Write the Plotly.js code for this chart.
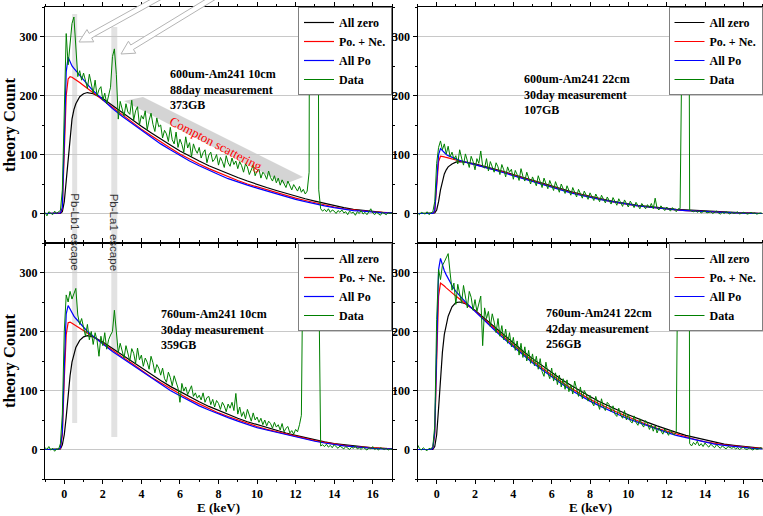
<!DOCTYPE html>
<html>
<head>
<meta charset="utf-8">
<script src="https://cdn.plot.ly/plotly-3.0.1.min.js"></script>
<style>html,body{margin:0;padding:0;background:#fff;}#chart{width:763px;height:516px;}</style>
</head>
<body>
<div id="chart"></div>
<script>
// ---------------- DATA ----------------
// Model energy grid (keV)
const modelE = [-1,-0.5,-0.3,-0.2,-0.1,0,0.1,0.2,0.3,0.4,0.5,0.6,0.8,1,1.2,1.5,2,2.5,3,3.5,4,4.5,5,5.5,6,6.5,7,7.5,8,8.5,9,9.5,10,10.5,11,11.5,12,12.5,13,13.5,14,14.5,15,15.5,16,16.5,17];
// Measured data energy bins: -1 .. 17 keV, 0.1 keV wide
const dataStart = -1, dataStep = 0.1, dataCount = 181;

// Panel 1: 600um-Am241 10cm
const tlAllZero = [0,0,0,0,3,20,55,95,135,160,176,186,198,203,205,203,195,183,171,160,148,137,126,116,106,97,89,81,74,67,61,55,49,44,39,34,29,25,21,17,13,10,7,5,3,2,1];
const tlPoNe    = [0,0,0,1,8,100,200,228,232,231,229,227,222,217,212,205,192,179,167,155,143,132,121,111,101,92,84,76,69,62,56,50,45,40,35,30,26,22,18,14,11,8,6,4,3,2,1];
const tlAllPo   = [0,0,0,1,10,120,240,265,256,250,246,242,234,226,219,208,193,178,165,153,141,129,118,108,98,89,81,73,66,59,53,48,43,38,33,28,24,20,16,13,10,7,5,4,2,1,1];
const tlData = [2,-4,3,1,-2,4,0,3,5,40,200,305,252,292,322,333,282,232,242,226,
238,222,212,236,218,204,226,199,210,215,192,204,186,198,214,266,279,236,160,190,
178,165,186,172,168,192,158,174,181,150,166,160,174,142,158,170,151,139,162,147,
150,128,141,135,122,146,125,118,138,112,126,117,104,130,111,120,96,118,108,102,
112,94,103,108,86,99,104,88,92,100,82,95,88,78,98,86,80,94,83,89,
76,88,81,70,84,79,66,76,82,64,72,75,60,70,66,58,72,61,55,64,
52,60,48,57,50,44,55,47,40,49,43,38,46,36,41,33,38,70,1800,3200,
3000,1400,40,8,
4,7,3,8,2,6,4,0,5,2,6,1,3,-2,4,1,2,-3,3,0,5,-1,2,-2,3,8,1,-2,2,0,-3,2,0,-2,1,0,1];

// Panel 2: 600um-Am241 22cm
const trAllZero = [0,0,0,0,1,6,20,40,56,67,74,79,84,87,88,87,84,80,76,71,66,61,56,51,46,42,37,33,29,25,22,19,16,14,12,10,8,7,6,5,4,3,2,1.5,1,0.5,0];
const trPoNe    = [0,0,0,0,4,45,88,97,97,96,95,94,92,90,89,87,83,79,75,70,65,60,55,50,45,41,36,32,28,24,21,18,15,13,11,9,8,6,5,4,3,2.5,2,1,1,0.5,0];
const trAllPo   = [0,0,0,0,5,50,100,110,106,103,100,98,95,92,90,87,83,79,74,69,64,59,54,49,44,40,35,31,27,24,21,18,15,13,11,9,7,6,5,4,3,2,1.5,1,0.5,0,0];
const trData = [1,-2,2,0,-1,3,-2,1,3,20,85,112,123,108,118,101,114,96,104,92,
98,84,108,94,82,101,90,78,97,88,74,93,85,106,80,77,93,72,88,80,
70,86,79,66,83,74,62,79,70,75,58,73,66,56,76,63,55,70,61,50,
62,55,47,64,53,44,60,50,42,56,47,39,54,45,36,50,42,34,47,39,
31,44,37,28,41,34,26,38,31,24,35,28,22,33,26,20,31,24,18,28,
21,16,27,20,14,25,18,12,23,17,11,21,15,10,19,14,8,17,13,8,
15,10,17,8,26,9,6,13,9,5,11,8,4,10,6,3,8,8,300,2500,
2400,1100,6,4,
3,5,2,4,1,3,4,1,2,3,0,2,4,1,-1,2,0,3,1,-1,2,0,1,3,-1,0,2,1,-1,0,2,0,1,-1,0,1,0];

// Panel 3: 760um-Am241 10cm
const blAllZero = [0,0,0,1,8,25,55,95,125,148,163,173,185,191,193,191,182,171,160,149,138,127,117,107,98,89,81,73,66,59,53,47,42,37,32,28,24,20,16,13,10,8,6,4,3,2,1];
const blPoNe    = [0,0,0,2,25,120,195,215,216,214,212,210,205,201,197,191,180,168,157,146,134,123,113,103,94,85,77,69,62,56,50,44,39,34,30,26,22,18,15,12,9,7,5,4,2,1,1];
const blAllPo   = [0,0,0,3,30,140,230,244,237,231,226,222,214,207,200,192,179,166,155,144,132,121,110,100,91,82,74,67,60,54,48,42,37,33,29,25,21,17,14,11,8,6,5,3,2,1,1];
const blData = [3,0,5,-1,2,-3,1,0,10,60,200,262,250,268,255,266,273,228,212,222,
205,192,212,186,200,178,198,185,158,192,176,198,170,186,194,200,236,205,164,180,
168,155,176,162,150,171,163,146,172,152,160,141,155,148,136,158,147,130,144,138,
126,138,120,114,131,122,108,125,116,104,80,112,99,106,93,101,108,90,96,87,
92,84,96,80,88,90,76,85,72,83,78,68,80,74,64,77,70,80,66,95,
60,72,56,64,52,68,58,48,62,50,55,46,53,42,50,40,48,44,36,46,
38,42,33,44,30,36,39,28,32,26,34,30,42,58,400,1800,3000,3200,3100,2800,
2200,1500,300,6,
8,5,9,4,7,3,8,5,2,6,4,1,5,3,0,4,2,6,1,3,0,4,2,-1,3,1,5,0,2,-1,3,1,0,2,-1,1,0];

// Panel 4: 760um-Am241 22cm
const brAllZero = [0,0,0,0,5,25,70,125,165,195,213,226,242,249,250,247,236,222,208,194,180,167,154,142,130,119,109,99,90,81,73,66,59,52,46,40,34,29,24,20,16,12,9,7,5,3,2];
const brPoNe    = [0,0,0,2,25,150,260,282,280,277,274,271,265,260,255,248,235,220,205,191,177,163,150,138,126,115,104,94,85,77,69,62,55,48,42,36,31,26,21,17,13,10,8,6,4,3,2];
const brAllPo   = [0,0,0,2,30,170,305,324,312,303,296,289,278,268,260,250,234,218,203,188,174,160,147,135,123,112,101,91,82,74,66,59,52,46,40,34,29,24,20,16,12,9,7,5,3,2,1];
const brData = [8,2,-1,3,0,-2,2,1,5,40,220,305,288,312,318,326,332,300,270,282,
246,280,262,248,278,256,240,268,258,236,254,234,246,260,176,240,222,234,208,230,
216,198,222,192,210,186,204,180,198,174,190,168,184,160,180,156,174,150,168,146,
162,142,158,136,154,132,124,148,130,120,138,116,130,110,126,106,120,102,118,98,
110,94,116,100,90,106,86,100,94,82,92,80,74,90,80,68,86,72,66,80,
76,64,74,60,56,70,58,53,66,50,60,48,45,57,46,41,52,43,38,49,
44,34,42,31,40,28,37,30,26,35,30,24,33,27,25,30,400,2500,3000,2900,
2600,1600,10,6,
12,8,14,6,10,5,11,7,4,9,6,3,8,5,2,6,4,1,5,3,2,4,1,3,0,2,4,1,0,3,1,-1,2,0,1,3,1];

const seriesNames = ['All zero', 'Po. + Ne.', 'All Po', 'Data'];
const panelTitles = [
  ['600um-Am241 10cm', '88day measurement', '373GB'],
  ['600um-Am241 22cm', '30day measurement', '107GB'],
  ['760um-Am241 10cm', '30day measurement', '359GB'],
  ['760um-Am241 22cm', '42day measurement', '256GB']
];
const xTitle = 'E (keV)';
const yTitle = 'theory Count';
const escapeLabels = ['Pb-Lb1 escape', 'Pb-La1 escape'];
const escapeBands = [[0.41, 0.67], [2.44, 2.75]];
const comptonLabel = 'Compton scattering';

// ---------------- BUILD ----------------
const dataE = [];
for (let i = 0; i < dataCount; i++) dataE.push(+(dataStart + dataStep * i).toFixed(1));

const W = 763, H = 516;
const PX = v => v / W;
const PY = v => 1 - v / H;
const SERIF = 'Liberation Serif, Times New Roman, serif';
const SANS = 'Liberation Sans, Arial, sans-serif';
const colors = ['#000000', '#ff0000', '#0000ff', '#008000'];

const panels = [
  {xa: 'x',  ya: 'y',  lg: 'legend',  s: [tlAllZero, tlPoNe, tlAllPo, tlData]},
  {xa: 'x2', ya: 'y2', lg: 'legend2', s: [trAllZero, trPoNe, trAllPo, trData]},
  {xa: 'x3', ya: 'y3', lg: 'legend3', s: [blAllZero, blPoNe, blAllPo, blData]},
  {xa: 'x4', ya: 'y4', lg: 'legend4', s: [brAllZero, brPoNe, brAllPo, brData]}
];

const traces = [];
panels.forEach(p => {
  p.s.forEach((vals, k) => {
    const isData = k === 3;
    traces.push({
      type: 'scatter', mode: 'lines',
      x: isData ? dataE : modelE, y: vals,
      name: seriesNames[k], xaxis: p.xa, yaxis: p.ya, legend: p.lg,
      line: {color: colors[k], width: isData ? 1.0 : 1.2},
      hoverinfo: 'skip'
    });
  });
});

const xL = [45 / W, 392 / W], xR = [417.5 / W, 762.5 / W];
const yTop = [PY(243), PY(7)], yBot = [PY(479), PY(243)];

function xAxis(dom, anchor, labels) {
  return {
    domain: dom, anchor: anchor, range: [-1, 17], tickmode: 'linear', tick0: 0, dtick: 2,
    showline: true, linecolor: '#000', linewidth: 1, mirror: 'ticks',
    ticks: 'outside', ticklen: 4, tickwidth: 1, tickcolor: '#000',
    minor: {dtick: 1, ticks: 'outside', ticklen: 2, tickcolor: '#000', showgrid: false},
    showgrid: false, zeroline: false, showticklabels: labels,
    tickfont: {family: SERIF, size: 12, weight: 'bold', color: '#000'},
    title: {text: ''}
  };
}
function yAxis(dom, anchor, withTitle) {
  return {
    domain: dom, anchor: anchor, range: [-50, 350], tickmode: 'linear', tick0: 0, dtick: 100,
    showline: true, linecolor: '#000', linewidth: 1, mirror: 'ticks',
    ticks: 'outside', ticklen: 4, tickwidth: 1, tickcolor: '#000',
    minor: {dtick: 50, ticks: 'outside', ticklen: 2, tickcolor: '#000', showgrid: false},
    showgrid: true, gridcolor: '#c8c8c8', gridwidth: 1, zeroline: false,
    tickfont: {family: SERIF, size: 12, weight: 'bold', color: '#000'},
    title: withTitle ? {text: yTitle, font: {family: SERIF, size: 16.5, weight: 'bold', color: '#000'}, standoff: 2} : {text: ''}
  };
}

function legendAt(xr, ytop) {
  return {
    x: xr, y: ytop, xanchor: 'right', yanchor: 'top', xref: 'paper', yref: 'paper',
    bgcolor: '#ffffff', bordercolor: '#808080', borderwidth: 1, itemwidth: 30,
    font: {family: SERIF, size: 12, weight: 'bold', color: '#000'}, traceorder: 'normal'
  };
}

function polyPath(pts) {
  return 'M' + pts.map(p => PX(p[0]).toFixed(5) + ',' + PY(p[1]).toFixed(5)).join(' L') + ' Z';
}
function hollowArrow(tip, tail) {
  const dx = tail[0] - tip[0], dy = tail[1] - tip[1];
  const L = Math.hypot(dx, dy), ux = dx / L, uy = dy / L, nx = -uy, ny = ux;
  const hl = 13, hw = 7, sw = 2.6;
  const b = [tip[0] + ux * hl, tip[1] + uy * hl];
  return polyPath([tip,
    [b[0] + nx * hw, b[1] + ny * hw], [b[0] + nx * sw, b[1] + ny * sw],
    [tail[0] + nx * sw, tail[1] + ny * sw], [tail[0] - nx * sw, tail[1] - ny * sw],
    [b[0] - nx * sw, b[1] - ny * sw], [b[0] - nx * hw, b[1] - ny * hw]]);
}

const shapes = [
  {type: 'rect', xref: 'x', yref: 'paper', x0: escapeBands[0][0], x1: escapeBands[0][1], y0: PY(423), y1: PY(14),
   fillcolor: '#e2e2e2', line: {width: 0}, layer: 'below'},
  {type: 'rect', xref: 'x', yref: 'paper', x0: escapeBands[1][0], x1: escapeBands[1][1], y0: PY(437), y1: PY(27),
   fillcolor: '#e2e2e2', line: {width: 0}, layer: 'below'},
  {type: 'path', xref: 'paper', yref: 'paper', path: polyPath([[124, 101], [143, 97], [303, 177], [285, 184]]),
   fillcolor: '#d4d4d4', line: {width: 0}, layer: 'below'},
  {type: 'path', xref: 'paper', yref: 'paper', path: hollowArrow([79, 42], [162, -4]),
   fillcolor: '#ffffff', line: {color: '#b4b4b4', width: 1}, layer: 'above'},
  {type: 'path', xref: 'paper', yref: 'paper', path: hollowArrow([121, 54], [216, -4]),
   fillcolor: '#ffffff', line: {color: '#b4b4b4', width: 1}, layer: 'above'}
];

const infoPos = [[168, 65], [522, 70], [159, 305], [544, 304]];
const annotations = panelTitles.map((lines, i) => ({
  xref: 'paper', yref: 'paper', x: PX(infoPos[i][0]), y: PY(infoPos[i][1]),
  xanchor: 'left', yanchor: 'top', align: 'left', showarrow: false,
  text: lines.join('<br>'), font: {family: SERIF, size: 12, weight: 'bold', color: '#000'}
}));
annotations.push({
  xref: 'paper', yref: 'paper', x: PX(216), y: PY(143), xanchor: 'center', yanchor: 'middle',
  showarrow: false, text: comptonLabel, textangle: 27.5,
  font: {family: SERIF, size: 13, color: '#ff0000'}
});
escapeLabels.forEach((t, i) => {
  annotations.push({
    xref: 'x', yref: 'paper', x: (escapeBands[i][0] + escapeBands[i][1]) / 2, y: PY(232),
    xanchor: 'center', yanchor: 'middle', showarrow: false, text: t, textangle: 90,
    font: {family: SANS, size: 11.5, color: '#333'}
  });
});
// x-axis titles under the two bottom panels
[xL, xR].forEach(dom => {
  annotations.push({
    xref: 'paper', yref: 'paper', x: (dom[0] + dom[1]) / 2, y: PY(516), borderpad: 0,
    xanchor: 'center', yanchor: 'bottom', showarrow: false, text: xTitle,
    font: {family: SERIF, size: 13, weight: 'bold', color: '#000'}
  });
});

const layout = {
  width: W, height: H,
  margin: {l: 0, r: 0, t: 0, b: 0, pad: 0},
  paper_bgcolor: '#ffffff', plot_bgcolor: '#ffffff',
  font: {family: SERIF, size: 12, color: '#000'},
  showlegend: true,
  xaxis: xAxis(xL, 'y', false),
  yaxis: yAxis(yTop, 'x', true),
  xaxis2: xAxis(xR, 'y2', false),
  yaxis2: yAxis(yTop, 'x2', false),
  xaxis3: xAxis(xL, 'y3', true),
  yaxis3: yAxis(yBot, 'x3', true),
  xaxis4: xAxis(xR, 'y4', true),
  yaxis4: yAxis(yBot, 'x4', false),
  legend: legendAt(392 / W, PY(7)),
  legend2: legendAt(762.5 / W, PY(7)),
  legend3: legendAt(392 / W, PY(243)),
  legend4: legendAt(762.5 / W, PY(243)),
  shapes: shapes,
  annotations: annotations
};

Plotly.newPlot('chart', traces, layout, {displayModeBar: false, staticPlot: true});
</script>
</body>
</html>
